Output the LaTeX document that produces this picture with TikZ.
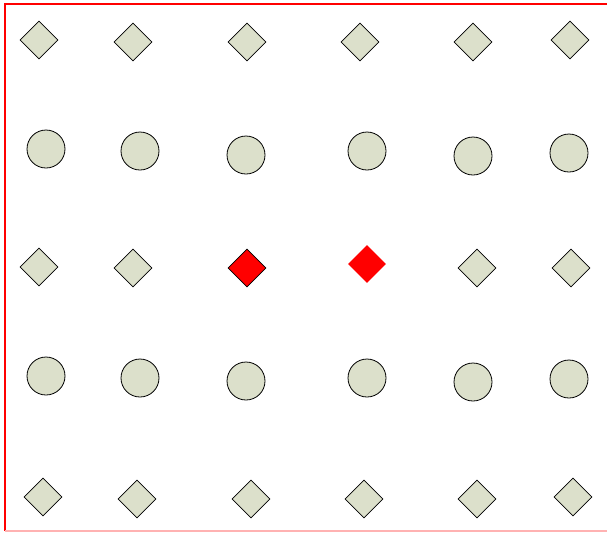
\documentclass[tikz,border=0pt]{standalone}
\usepackage{tikz}
\usetikzlibrary{shapes.geometric}
\definecolor{sage}{HTML}{DCE0CB}
\tikzset{
  dia/.style ={diamond, draw=black, fill=sage, line width=0.6pt, minimum size=28.5pt, inner sep=0pt},
  circ/.style={circle, draw=black, fill=sage, line width=0.6pt, minimum size=28.5pt, inner sep=0pt},
  hot/.style ={dia, fill=red},
  hotb/.style={dia, fill=red, draw=none},
  frm/.style ={red, line width=0.9pt},
}

\begin{document}
\begin{tikzpicture}[x=0.75pt, y=-0.75pt]
  \useasboundingbox (0,0) rectangle (607,533);
  % frame
  \draw[frm] (5,531) -- (5,4) -- (607,4);
  \draw[frm, red!30] (5,531) -- (607,531);
  % row 1
  \node[dia] (d11) at (39,40) {};
  \node[dia] (d12) at (133,42) {};
  \node[dia] (d13) at (247,42) {};
  \node[dia] (d14) at (360,42) {};
  \node[dia] (d15) at (473,42) {};
  \node[dia] (d16) at (570,40) {};
  % row 2
  \node[circ] (c21) at (46,149) {};
  \node[circ] (c22) at (140,151) {};
  \node[circ] (c23) at (246,155) {};
  \node[circ] (c24) at (367,151) {};
  \node[circ] (c25) at (473,156) {};
  \node[circ] (c26) at (569,153) {};
  % row 3
  \node[dia] (d31) at (39,267) {};
  \node[dia] (d32) at (133,268) {};
  \node[hot] (d33) at (247,268) {};
  \node[hotb] (d34) at (367,264) {};
  \node[dia] (d35) at (477,268) {};
  \node[dia] (d36) at (571,268) {};
  % row 4
  \node[circ] (c41) at (46,376) {};
  \node[circ] (c42) at (140,378) {};
  \node[circ] (c43) at (246,381) {};
  \node[circ] (c44) at (367,378) {};
  \node[circ] (c45) at (473,382) {};
  \node[circ] (c46) at (569,379) {};
  % row 5
  \node[dia] (d51) at (43,497) {};
  \node[dia] (d52) at (137,499) {};
  \node[dia] (d53) at (251,499) {};
  \node[dia] (d54) at (364,499) {};
  \node[dia] (d55) at (477,499) {};
  \node[dia] (d56) at (573,497) {};
\end{tikzpicture}
\end{document}
